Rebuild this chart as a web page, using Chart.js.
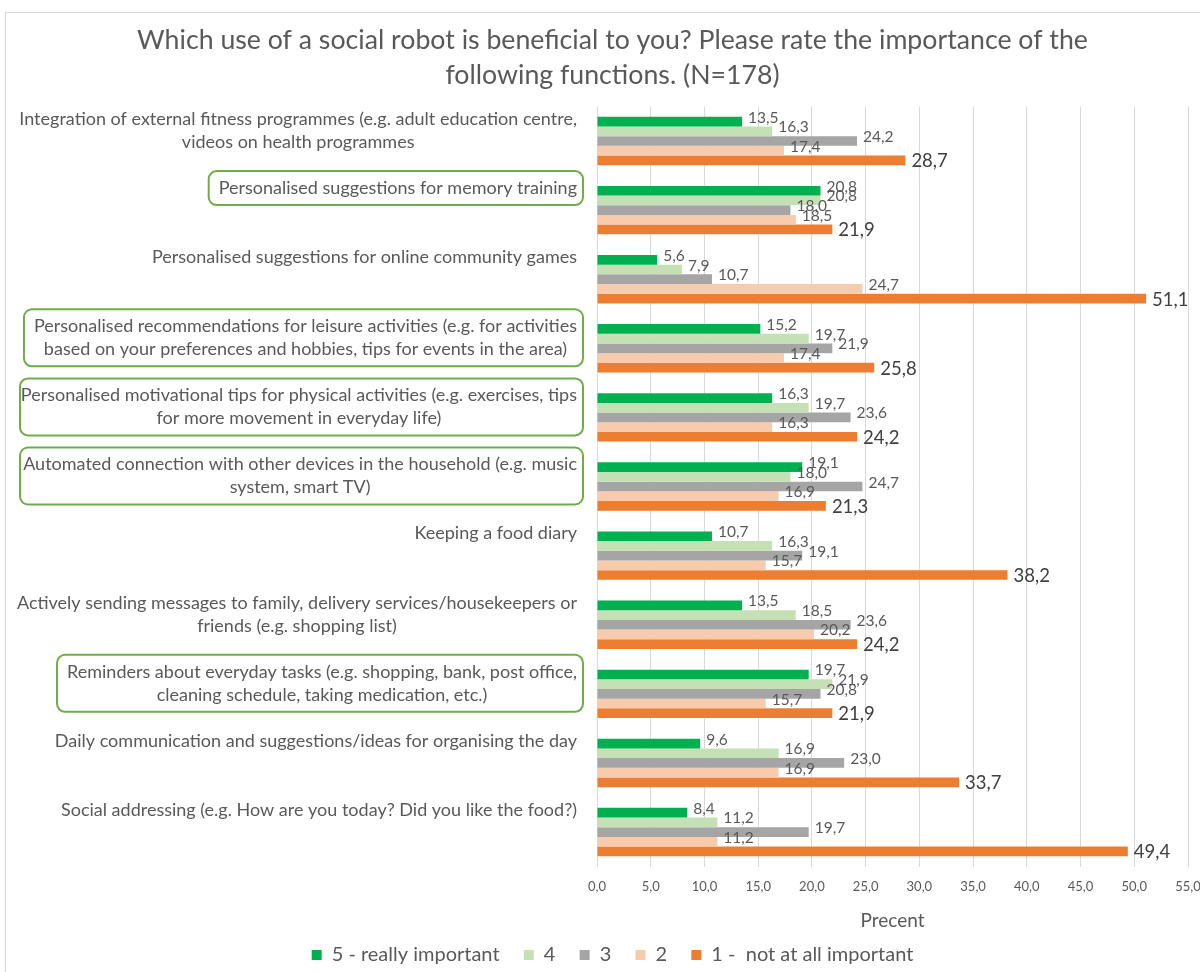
<!DOCTYPE html>
<html>
<head>
<meta charset="utf-8">
<style>
  html, body { margin: 0; padding: 0; background: #fff; }
  #wrap { width: 1200px; height: 972px; }
</style>
</head>
<body>
<div id="wrap"><canvas id="robotChart" width="1200" height="972"></canvas></div>
<script src="https://cdn.jsdelivr.net/npm/chart.js"></script>
<script>
    const categories = [
        ['Integration of external fitness programmes (e.g. adult education centre,', 'videos on health programmes'],
        ['Personalised suggestions for memory training'],
        ['Personalised suggestions for online community games'],
        ['Personalised recommendations for leisure activities (e.g. for activities', 'based on your preferences and hobbies, tips for events in the area)'],
        ['Personalised motivational tips for physical activities (e.g. exercises, tips', 'for more movement in everyday life)'],
        ['Automated connection with other devices in the household (e.g. music', 'system, smart TV)'],
        ['Keeping a food diary'],
        ['Actively sending messages to family, delivery services/housekeepers or', 'friends (e.g. shopping list)'],
        ['Reminders about everyday tasks (e.g. shopping, bank, post office,', 'cleaning schedule, taking medication, etc.)'],
        ['Daily communication and suggestions/ideas for organising the day'],
        ['Social addressing (e.g. How are you today? Did you like the food?)']
    ];
    // rows framed in green
    const highlighted = [1, 3, 4, 5, 8];

    const seriesNames = ['5 - really important', '4', '3', '2', '1 -  not at all important'];
    const really = [13.5, 20.8, 5.6, 15.2, 16.3, 19.1, 10.7, 13.5, 19.7, 9.6, 8.4];
    const four = [16.3, 20.8, 7.9, 19.7, 19.7, 18.0, 16.3, 18.5, 21.9, 16.9, 11.2];
    const three = [24.2, 18.0, 10.7, 21.9, 23.6, 24.7, 19.1, 23.6, 20.8, 23.0, 19.7];
    const two = [17.4, 18.5, 24.7, 17.4, 16.3, 16.9, 15.7, 20.2, 15.7, 16.9, 11.2];
    const notAtAll = [28.7, 21.9, 51.1, 25.8, 24.2, 21.3, 38.2, 24.2, 21.9, 33.7, 49.4];

    const colors = ['#00B050', '#C5E0B4', '#A5A5A5', '#F8CBAD', '#ED7D31'];
    const FONT = 'Lato, "Open Sans", sans-serif';
    const TEXT = '#595959';

    const fmt = v => v.toFixed(1).replace('.', ',');

    // value labels at the end of each bar
    const valueLabels = {
        id: 'valueLabels',
        afterDatasetsDraw(chart) {
            const c = chart.ctx;
            c.save();
            c.textBaseline = 'middle';
            c.textAlign = 'left';
            chart.data.datasets.forEach((ds, di) => {
                const meta = chart.getDatasetMeta(di);
                const big = di === 4;
                c.font = (big ? '18.5px ' : '15.5px ') + FONT;
                c.fillStyle = big ? '#404040' : TEXT;
                meta.data.forEach((bar, i) => {
                    c.fillText(fmt(ds.data[i]), bar.x + 6, bar.y + (big ? 1 : -4));
                });
            });
            c.restore();
        }
    };

    // category texts left of the axis, with green frames for selected rows
    const categoryText = {
        id: 'categoryText',
        beforeInit(chart) {
            // legend row sits close to the bottom edge
            const legend = chart.legend;
            const fit = legend.fit;
            legend.fit = function () {
                fit.call(this);
                this.height -= 3;
            };
        },
        afterDraw(chart) {
            const c = chart.ctx;
            const y = chart.scales.y;
            const right = 577;
            const lineH = 23;
            c.save();
            c.font = '18px ' + FONT;
            c.fillStyle = TEXT;
            c.textBaseline = 'middle';
            c.textAlign = 'center';
            categories.forEach((lines, i) => {
                const cy = y.getPixelForValue(i);
                const w = Math.max(...lines.map(l => c.measureText(l).width));
                const mid = right - w / 2;
                const top = cy - 22;
                lines.forEach((l, k) => c.fillText(l, mid, top + k * lineH));
                if (highlighted.includes(i)) {
                    const bx = Math.max(20, right - w - 10);
                    const by = top - 17;
                    const bh = (lines.length - 1) * lineH + 34;
                    c.beginPath();
                    c.roundRect(bx, by, 583 - bx, bh, 8);
                    c.lineWidth = 2;
                    c.strokeStyle = '#70AD47';
                    c.stroke();
                }
            });
            // outer frame
            c.strokeStyle = '#D9D9D9';
            c.lineWidth = 1;
            c.strokeRect(5.5, 12.5, 1200, 970);
            c.restore();
        }
    };

    const ctx = document.getElementById('robotChart').getContext('2d');
    new Chart(ctx, {
        type: 'bar',
        data: {
            labels: categories.map(l => l.join(' ')),
            datasets: [really, four, three, two, notAtAll].map((d, i) => ({
                label: seriesNames[i],
                data: d,
                backgroundColor: colors[i],
                barPercentage: 1,
                categoryPercentage: 0.70
            }))
        },
        options: {
            indexAxis: 'y',
            responsive: false,
            animation: false,
            layout: { padding: { left: 37, right: 12, top: 14, bottom: 0 } },
            plugins: {
                title: {
                    display: true,
                    text: ['Which use of a social robot is beneficial to you? Please rate the importance of the', 'following functions. (N=178)'],
                    color: TEXT,
                    font: { family: FONT, size: 26.7, weight: 'normal', lineHeight: 1.3 },
                    padding: { top: 9, bottom: 14 }
                },
                legend: {
                    position: 'bottom',
                    labels: {
                        color: TEXT,
                        font: { family: FONT, size: 20 },
                        boxWidth: 10,
                        boxHeight: 10,
                        padding: 13,
                        // a little extra room between entries
                        generateLabels: chart => Chart.defaults.plugins.legend.labels.generateLabels(chart)
                            .map((l, i, all) => i < all.length - 1 ? { ...l, text: l.text + '\u2002\u200A' } : l)
                    }
                },
                tooltip: { enabled: false }
            },
            scales: {
                x: {
                    min: 0,
                    max: 55,
                    // the last tick label may run into the right margin
                    afterFit: s => { s.paddingRight = 0; },
                    ticks: {
                        stepSize: 5,
                        color: TEXT,
                        font: { family: FONT, size: 13 },
                        padding: 12,
                        callback: v => fmt(v)
                    },
                    grid: { color: '#D9D9D9', drawTicks: false },
                    border: { display: false },
                    title: {
                        display: true,
                        text: 'Precent',
                        color: TEXT,
                        font: { family: FONT, size: 19 },
                        padding: { top: 3, bottom: 0 }
                    }
                },
                y: {
                    afterFit: s => { s.width = 560; },
                    ticks: { display: false },
                    grid: { display: false },
                    border: { color: '#D9D9D9' }
                }
            }
        },
        plugins: [valueLabels, categoryText]
    });
</script>
</body>
</html>
